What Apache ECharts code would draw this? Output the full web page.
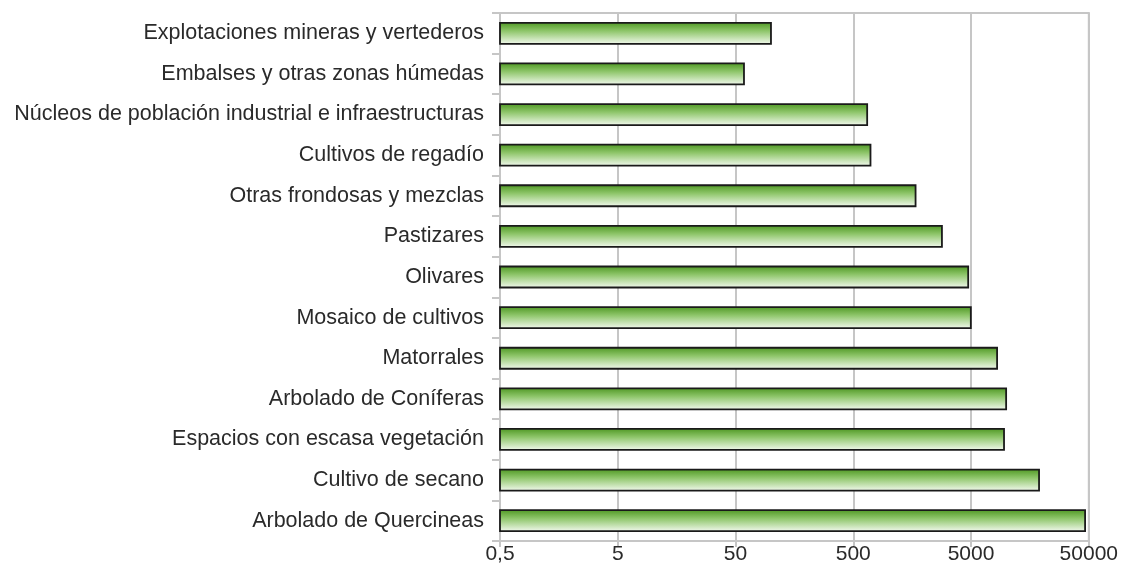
<!DOCTYPE html>
<html>
<head>
<meta charset="utf-8">
<script src="https://cdn.jsdelivr.net/npm/echarts@6/dist/echarts.min.js"></script>
<style>
  html, body { margin: 0; padding: 0; background: #fff; }
  #main { width: 1121px; height: 565px; }
</style>
</head>
<body>
<div id="main"></div>
<script>
// categorias, de arriba a abajo
var categories = [
    'Explotaciones mineras y vertederos',
    'Embalses y otras zonas húmedas',
    'Núcleos de población industrial e infraestructuras',
    'Cultivos de regadío',
    'Otras frondosas y mezclas',
    'Pastizares',
    'Olivares',
    'Mosaico de cultivos',
    'Matorrales',
    'Arbolado de Coníferas',
    'Espacios con escasa vegetación',
    'Cultivo de secano',
    'Arbolado de Quercineas'
];
// superficie (escala logaritmica)
var values = [100, 59, 656, 700, 1690, 2830, 4730, 4980, 8320, 9930, 9530, 18900, 46500];
var tickValues = [0.5, 5, 50, 500, 5000, 50000];
var axisMin = 0.5;

var myChart = echarts.init(document.getElementById('main'));

// las barras empiezan en el minimo del eje (0,5), no en 1
function renderBar(params, api) {
    var idx = api.value(0);
    var start = api.coord([axisMin, idx]);
    var end = api.coord([api.value(1), idx]);
    var h = 21;
    return {
        type: 'rect',
        shape: { x: start[0], y: start[1] - h / 2, width: end[0] - start[0], height: h },
        style: {
            fill: new echarts.graphic.LinearGradient(0, 0, 0, 1, [
                { offset: 0, color: '#4c9620' },
                { offset: 0.4, color: '#8fc66b' },
                { offset: 1, color: '#f6fbf3' }
            ]),
            stroke: '#1a1a1a',
            lineWidth: 1.8
        }
    };
}

var option = {
    animation: false,
    grid: {
        left: 500,
        right: 30,
        top: 13,
        bottom: 21,
        show: true,
        borderColor: '#c6c6c6',
        borderWidth: 2
    },
    xAxis: {
        type: 'log',
        logBase: 10,
        min: axisMin,
        max: 50000,
        axisLine: { show: true, lineStyle: { color: '#c6c6c6', width: 2 } },
        axisTick: {
            show: true,
            length: 6,
            customValues: tickValues,
            lineStyle: { color: '#c6c6c6', width: 2 }
        },
        axisLabel: {
            customValues: tickValues,
            color: '#2a2a2a',
            fontFamily: 'Liberation Sans',
            fontSize: 21,
            margin: 3,
            formatter: function (v) {
                return String(v).replace('.', ',');
            }
        },
        splitLine: { show: true, lineStyle: { color: '#c6c6c6', width: 2 } },
        minorSplitLine: { show: false }
    },
    yAxis: {
        type: 'category',
        inverse: true,
        data: categories,
        axisLine: { show: true, lineStyle: { color: '#c6c6c6', width: 2 } },
        axisTick: { show: true, length: 8, lineStyle: { color: '#c6c6c6', width: 2 } },
        axisLabel: {
            color: '#2a2a2a',
            fontFamily: 'Liberation Sans',
            fontSize: 21.5,
            margin: 16
        }
    },
    series: [
        {
            type: 'custom',
            renderItem: renderBar,
            encode: { x: 1, y: 0 },
            data: values.map(function (v, i) { return [i, v]; })
        }
    ]
};

myChart.setOption(option);
</script>
</body>
</html>
